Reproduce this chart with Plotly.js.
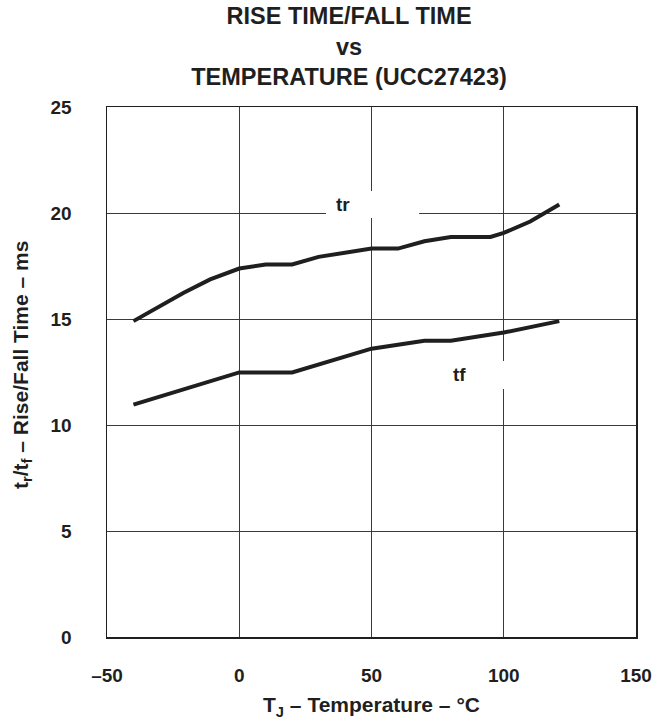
<!DOCTYPE html>
<html>
<head>
<meta charset="utf-8">
<script src="https://cdn.plot.ly/plotly-3.0.1.min.js"></script>
<style>html,body{margin:0;padding:0;background:#fff;}#chart{width:670px;height:728px;}</style>
</head>
<body>
<div id="chart"></div>
<script>
// Temperature (°C) and rise/fall time values
var trTemp = [-40, -21, -11, 0, 10, 20, 30, 50, 60, 70, 80, 95, 100, 110, 121];
var trTime = [14.9, 16.24, 16.87, 17.38, 17.57, 17.57, 17.93, 18.32, 18.32, 18.67, 18.87, 18.87, 19.06, 19.6, 20.4];
var tfTemp = [-40, 0, 20, 50, 70, 80, 100, 121];
var tfTime = [10.96, 12.48, 12.48, 13.6, 13.97, 13.97, 14.36, 14.9];

var xTickVals = [-50, 0, 50, 100, 150];
var xTickText = ['–50', '0', '50', '100', '150'];
var yTickVals = [0, 5, 10, 15, 20, 25];
var yTickText = ['0', '5', '10', '15', '20', '25'];

var FONT = 'Liberation Sans, Arial, Helvetica, sans-serif';
var INK = '#1f1f1f';

var lineStyle = {color: INK, width: 4};
var traces = [
  {x: trTemp, y: trTime, mode: 'lines', line: lineStyle, name: 'tr', hoverinfo: 'x+y'},
  {x: tfTemp, y: tfTime, mode: 'lines', line: lineStyle, name: 'tf', hoverinfo: 'x+y'}
];

var layout = {
  width: 670, height: 728,
  margin: {l: 107, r: 34, t: 107, b: 91},
  paper_bgcolor: '#fff', plot_bgcolor: '#fff',
  showlegend: false,
  font: {family: FONT, color: INK},
  title: {
    text: '<b>RISE TIME/FALL TIME<br>vs<br>TEMPERATURE (UCC27423)</b>',
    font: {family: FONT, size: 23.5, color: INK},
    x: 0.521, xanchor: 'center', xref: 'container',
    y: 0.967, yanchor: 'top', yref: 'container'
  },
  xaxis: {
    range: [-50, 150], tickvals: xTickVals, ticktext: xTickText,
    showgrid: true, gridcolor: '#3a3a3a', gridwidth: 1,
    zeroline: false, showline: true, linecolor: INK, linewidth: 1.5, mirror: true,
    ticks: '', ticklabelstandoff: 21,
    tickfont: {family: FONT, size: 19, color: INK, weight: 'bold'},
    title: {text: '<b>T<sub>J</sub> – Temperature – °C</b>', font: {family: FONT, size: 21, color: INK}, standoff: 12},
    fixedrange: true
  },
  yaxis: {
    range: [0, 25], tickvals: yTickVals, ticktext: yTickText,
    showgrid: true, gridcolor: '#3a3a3a', gridwidth: 1,
    zeroline: false, showline: true, linecolor: INK, linewidth: 1.5, mirror: true,
    ticks: '', ticklabelstandoff: 30,
    tickfont: {family: FONT, size: 19, color: INK, weight: 'bold'},
    fixedrange: true
  },
  shapes: [
    {type: 'rect', xref: 'x', yref: 'y', x0: 32.8, x1: 68, y0: 19.76, y1: 21.04,
     fillcolor: '#fff', line: {width: 0}, layer: 'between'},
    {type: 'rect', xref: 'x', yref: 'y', x0: 77, x1: 112, y0: 11.7, y1: 13.02,
     fillcolor: '#fff', line: {width: 0}, layer: 'between'}
  ],
  annotations: [
    {text: '<b>tr</b>', x: 39.2, y: 20.4, xref: 'x', yref: 'y', showarrow: false,
     font: {family: FONT, size: 19, color: INK}},
    {text: '<b>tf</b>', x: 83.1, y: 12.36, xref: 'x', yref: 'y', showarrow: false,
     font: {family: FONT, size: 19, color: INK}},
    {text: '<b>t<sub>r</sub>/t<sub>f</sub> – Rise/Fall Time – ms</b>', textangle: -90,
     xref: 'paper', yref: 'paper', x: -0.161, y: 0.513, xanchor: 'center', yanchor: 'middle',
     showarrow: false, font: {family: FONT, size: 21, color: INK}}
  ]
};

Plotly.newPlot('chart', traces, layout, {displayModeBar: false, staticPlot: true});
</script>
</body>
</html>
